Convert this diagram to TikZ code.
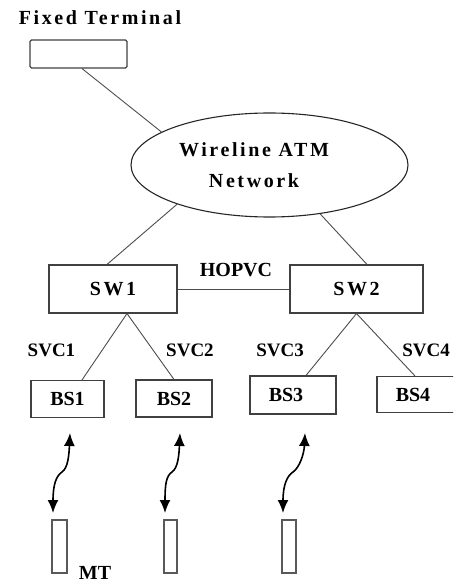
\documentclass[tikz,border=0pt]{standalone}
\usepackage{fontspec}
\setmainfont{Liberation Serif}
\newfontfamily\spaced[LetterSpace=13]{Liberation Serif}
\usetikzlibrary{shapes.geometric,arrows.meta,calc}
\begin{document}
\begin{tikzpicture}[x=1pt,y=-1pt,
  box/.style={draw=black!75,line width=1.1pt,inner sep=0pt},
  mtbox/.style={draw=black!65,line width=1.1pt,inner sep=0pt,minimum height=53pt},
  conn/.style={draw=black!70,line width=0.9pt},
  txt/.style={inner sep=0pt,font=\fontsize{20}{24}\selectfont\bfseries},
  stxt/.style={inner sep=0pt,font=\spaced\fontsize{20}{31}\selectfont\bfseries},
  svc/.style={inner sep=0pt,font=\fontsize{19}{24}\selectfont\bfseries},
  wl/.style={line width=1.6pt,{Latex[length=13pt,width=11pt]}-{Latex[length=13pt,width=11pt]}}]
\useasboundingbox (0,0) rectangle (453,585);
\clip (0,0) rectangle (453,585);

% texts and boxes
\node[stxt] (ftl) at (100,18) {Fixed Terminal};
\node[box,rounded corners=1.5pt,minimum width=97pt,minimum height=28pt] (ft) at (78.5,54) {};
\node[ellipse,draw=black!85,line width=1.1pt,minimum width=277pt,minimum height=104pt,inner sep=0pt] (net) at (269.5,165) {};
\node[stxt,align=center] (netl) at (254,165) {Wireline ATM\\Network};

\node[box,stxt,minimum width=128pt,minimum height=48pt] (sw1) at (113,289) {SW1};
\node[box,stxt,minimum width=133pt,minimum height=48pt] (sw2) at (356.5,289) {SW2};
\node[txt] (ho) at (236,270) {HOPVC};

\node[box,txt,minimum width=73pt,minimum height=37pt] (bs1) at (67.5,399) {BS1};
\node[box,txt,minimum width=76pt,minimum height=37pt] (bs2) at (174,398.5) {BS2};
\node[box,txt,minimum width=86pt,minimum height=38pt] (bs3) at (293,395) {\hspace*{-14pt}BS3};
\node[box,txt,minimum width=83pt,minimum height=36pt] (bs4) at (418.5,394.5) {\hspace*{-11pt}BS4};

\node[svc] (svc1) at (51.5,350) {SVC1};
\node[svc] (svc2) at (190,350) {SVC2};
\node[svc] (svc3) at (280,350) {SVC3};
\node[svc] (svc4) at (426,350) {SVC4};

\node[mtbox,minimum width=15pt] (mt1) at (59.5,546.5) {};
\node[mtbox,minimum width=13pt] (mt2) at (170.5,546.5) {};
\node[mtbox,minimum width=14pt] (mt3) at (289,546.5) {};
\node[txt,anchor=base] (mt) at (95,579) {MT};

% connectors
\draw[conn] ($(ft.south)+(3.5,0)$) -- (net.163);
\draw[conn] (net.203) -- ($(sw1.north)+(-6,0)$);
\draw[conn] (net.-44) -- ($(sw2.north)+(10.5,0)$);
\draw[conn] (sw1.east) -- (sw2.west);
\coordinate (j1) at ($(sw1.south)+(14,0)$);
\draw[conn] (j1) -- ($(bs1.north)+(14.5,0)$);
\draw[conn] (j1) -- (bs2.north);
\draw[conn] (sw2.south) -- ($(bs3.north)+(13,0)$);
\draw[conn] (sw2.south) -- ($(bs4.north)+(-3.5,0)$);

% wireless links
\foreach \n/\bx/\mx/\tx in {1/53/62/70, 2/165/172/180, 3/283/293/305}{
  \coordinate (b\n) at (\bx,513);
  \coordinate (m\n) at (\mx,472);
  \coordinate (t\n) at (\tx,433);
  \draw[wl] (b\n) .. controls ($(b\n)+(0,-28)$) and ($(m\n)+(-6,4)$) .. (m\n)
            .. controls ($(m\n)+(6,-4)$) and ($(t\n)+(-1,22)$) .. (t\n);
}
\end{tikzpicture}
\end{document}
